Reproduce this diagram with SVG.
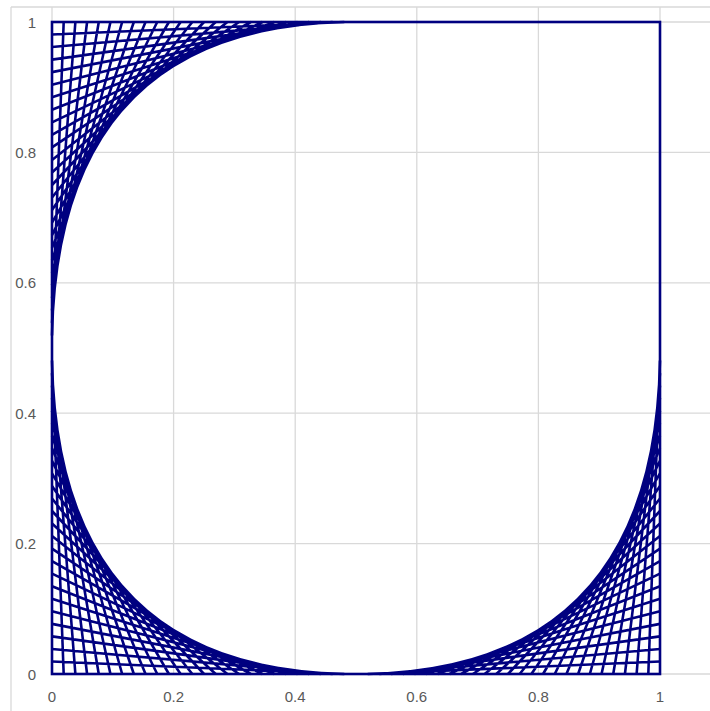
<svg xmlns="http://www.w3.org/2000/svg" width="710" height="711" viewBox="0 0 710 711">
<style>
.grid{stroke:#d9d9d9;stroke-width:1.3;fill:none}
.ln{stroke:#000080;stroke-width:2.6;fill:none;stroke-linejoin:miter}
.lbl{font-family:"Liberation Sans",Arial,sans-serif;font-size:15px;fill:#595959}
</style>
<rect x="0" y="0" width="710" height="711" fill="#ffffff"/>
<g id="frame">
<path class="grid" d="M11 7H710M11 7V711"/>
</g>
<g id="gridlines">
<path class="grid" d="M52 7V674M173.6 7V674M295.2 7V674M416.8 7V674M538.4 7V674M660 7V674"/>
<path class="grid" d="M52 22H710M52 152.4H710M52 282.8H710M52 413.2H710M52 543.6H710M52 674H710"/>
</g>
<g id="y-labels" class="lbl" text-anchor="end">
<text x="36" y="679.5">0</text>
<text x="36" y="549.1">0.2</text>
<text x="36" y="418.7">0.4</text>
<text x="36" y="288.3">0.6</text>
<text x="36" y="157.9">0.8</text>
<text x="36" y="27.5">1</text>
</g>
<g id="x-labels" class="lbl" text-anchor="middle">
<text x="52" y="702">0</text>
<text x="173.6" y="702">0.2</text>
<text x="295.2" y="702">0.4</text>
<text x="416.8" y="702">0.6</text>
<text x="538.4" y="702">0.8</text>
<text x="660" y="702">1</text>
</g>
<g id="series">
<rect class="ln" x="52" y="22" width="608" height="652"/>
<path id="bottom-left" class="ln" d="M52 360.54L63.69 674M52 373.08L75.38 674M52 385.62L87.08 674M52 398.15L98.77 674M52 410.69L110.46 674M52 423.23L122.15 674M52 435.77L133.85 674M52 448.31L145.54 674M52 460.85L157.23 674M52 473.38L168.92 674M52 485.92L180.62 674M52 498.46L192.31 674M52 511L204 674M52 523.54L215.69 674M52 536.08L227.38 674M52 548.62L239.08 674M52 561.15L250.77 674M52 573.69L262.46 674M52 586.23L274.15 674M52 598.77L285.85 674M52 611.31L297.54 674M52 623.85L309.23 674M52 636.38L320.92 674M52 648.92L332.62 674M52 661.46L344.31 674"/>
<path id="top-left" class="ln" d="M52 335.46L63.69 22M52 322.92L75.38 22M52 310.38L87.08 22M52 297.85L98.77 22M52 285.31L110.46 22M52 272.77L122.15 22M52 260.23L133.85 22M52 247.69L145.54 22M52 235.15L157.23 22M52 222.62L168.92 22M52 210.08L180.62 22M52 197.54L192.31 22M52 185L204 22M52 172.46L215.69 22M52 159.92L227.38 22M52 147.38L239.08 22M52 134.85L250.77 22M52 122.31L262.46 22M52 109.77L274.15 22M52 97.23L285.85 22M52 84.69L297.54 22M52 72.15L309.23 22M52 59.62L320.92 22M52 47.08L332.62 22M52 34.54L344.31 22"/>
<path id="bottom-right" class="ln" d="M660 360.54L648.31 674M660 373.08L636.62 674M660 385.62L624.92 674M660 398.15L613.23 674M660 410.69L601.54 674M660 423.23L589.85 674M660 435.77L578.15 674M660 448.31L566.46 674M660 460.85L554.77 674M660 473.38L543.08 674M660 485.92L531.38 674M660 498.46L519.69 674M660 511L508 674M660 523.54L496.31 674M660 536.08L484.62 674M660 548.62L472.92 674M660 561.15L461.23 674M660 573.69L449.54 674M660 586.23L437.85 674M660 598.77L426.15 674M660 611.31L414.46 674M660 623.85L402.77 674M660 636.38L391.08 674M660 648.92L379.38 674M660 661.46L367.69 674"/>
</g>
</svg>
